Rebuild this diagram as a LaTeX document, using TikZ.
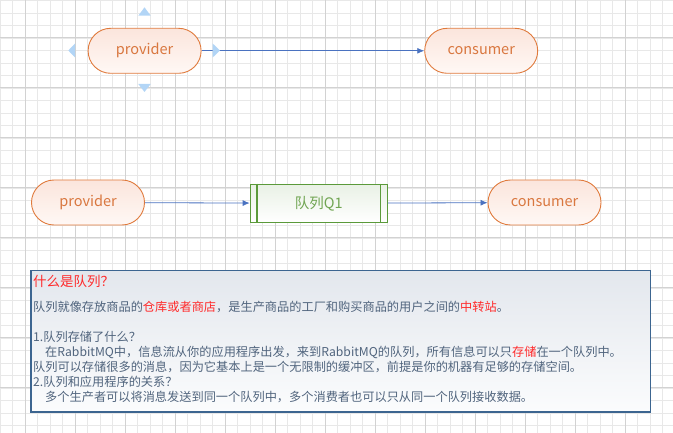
\documentclass[tikz,border=0pt]{standalone}
\usepackage{fontspec}
\setmainfont{Noto Sans CJK SC}
\usepackage{xcolor}
\usepackage{tikz}
\usetikzlibrary{calc}
\usetikzlibrary{arrows, arrows.meta}

\definecolor{gridminor}{HTML}{E8E8E8}
\definecolor{gridmajor}{HTML}{D2D2D2}
\definecolor{pillline}{HTML}{E07A3C}
\definecolor{pilltext}{HTML}{D9773F}
\definecolor{pilltop}{HTML}{FBE5DC}
\definecolor{pillbottom}{HTML}{FFF8F5}
\definecolor{queueline}{HTML}{5B9A3A}
\definecolor{queuetext}{HTML}{70A552}
\definecolor{queuetop}{HTML}{E9F1E5}
\definecolor{flowblue}{HTML}{4A72C0}
\definecolor{handleblue}{HTML}{B2D5F6}
\definecolor{noteborder}{HTML}{3C6590}
\definecolor{notetop}{HTML}{E3E7ED}
\definecolor{notebottom}{HTML}{FBFCFD}
\definecolor{notetext}{HTML}{50647D}
\definecolor{notered}{HTML}{FF2A2A}

\tikzset{
	pill/.style={rectangle, rounded corners=22.5pt, draw=pillline, line width=0.9pt,
		top color=pilltop, bottom color=pillbottom, text=pilltext,
		minimum width=113pt, minimum height=45pt, inner sep=0pt,
		font=\fontsize{14.5}{16}\selectfont},
	queue/.style={rectangle, draw=queueline, line width=1.1pt,
		top color=queuetop, bottom color=white, text=queuetext,
		minimum width=137pt, minimum height=38pt, inner sep=0pt,
		font=\fontsize{14.5}{16}\selectfont},
	flow/.style={draw=flowblue, line width=0.8pt, -{Latex[length=7pt, width=6pt]}},
	handle/.style={fill=handleblue, draw=none},
	noteline/.style={anchor=base west, inner sep=0pt, text=notetext,
		font=\fontsize{12.2}{15}\selectfont},
}

\begin{document}
\begin{tikzpicture}[x=1pt, y=-1pt]
	\useasboundingbox (0,0) rectangle (673,433);
	% background grid
	\foreach \x in {0,12.5,...,673}
		\draw [gridminor, line width=0.6pt] (\x,0) -- (\x,433);
	\foreach \y in {0.5,13,...,433}
		\draw [gridminor, line width=0.6pt] (0,\y) -- (673,\y);
	\foreach \x in {25,75,...,673}
		\draw [gridmajor, line width=0.6pt] (\x,0) -- (\x,433);
	\foreach \y in {37.5,87.5,...,433}
		\draw [gridmajor, line width=0.6pt] (0,\y) -- (673,\y);

	% first row
	\node [pill] (prodA) at (144.6,50.8) {provider};
	\node [pill] (consA) at (481.2,50.8) {consumer};
	\draw [flow] (prodA) -- (consA);
	% selection handles
	\fill [handle] (144.5,7.3) -- (150.7,15.7) -- (138.3,15.7) -- cycle;
	\fill [handle] (144.5,92) -- (150.7,84) -- (138.3,84) -- cycle;
	\fill [handle] (68.3,50.5) -- (75,43.5) -- (75,57.5) -- cycle;
	\fill [handle] (220,50.5) -- (212.7,43.5) -- (212.7,57.5) -- cycle;

	% second row
	\node [pill] (prodB) at (88,202.5) {provider};
	\node [queue] (queueQ) at (318.7,203.3) {队列Q1};
	\draw [queueline, line width=1.1pt]
		($(queueQ.north west)+(7.3,0)$) -- ($(queueQ.south west)+(7.3,0)$);
	\draw [queueline, line width=1.1pt]
		($(queueQ.north east)+(-7.3,0)$) -- ($(queueQ.south east)+(-7.3,0)$);
	\node [pill] (consB) at (544.5,202.5) {consumer};
	\draw [flow] (prodB) -- (queueQ);
	\draw [flow] (queueQ) -- (consB);

	% note box
	\draw [noteborder, line width=1.1pt, top color=notetop, bottom color=notebottom]
		(31,270.7) rectangle (650.7,412);
	\node [noteline, text=notered, font=\fontsize{13.5}{15}\selectfont]
		(noteTitle) at (33,287) {什么是队列？};
	\node [noteline] (noteIntro) at (33,311.3)
		{队列就像存放商品的\textcolor{notered}{仓库或者商店}，是生产商品的工厂和购买商品的用户之间的\textcolor{notered}{中转站}。};
	\node [noteline] (noteAskA) at (33,341.3) {1.队列存储了什么？};
	\node [noteline] (noteAnsA) at (45,356.3)
		{在RabbitMQ中，信息流从你的应用程序出发，来到RabbitMQ的队列，所有信息可以只\textcolor{notered}{存储}在一个队列中。};
	\node [noteline] (noteAnsB) at (33,371.3)
		{队列可以存储很多的消息，因为它基本上是一个无限制的缓冲区，前提是你的机器有足够的存储空间。};
	\node [noteline] (noteAskB) at (33,386.3) {2.队列和应用程序的关系？};
	\node [noteline] (noteAnsC) at (45,401.3)
		{多个生产者可以将消息发送到同一个队列中，多个消费者也可以只从同一个队列接收数据。};
\end{tikzpicture}
\end{document}
